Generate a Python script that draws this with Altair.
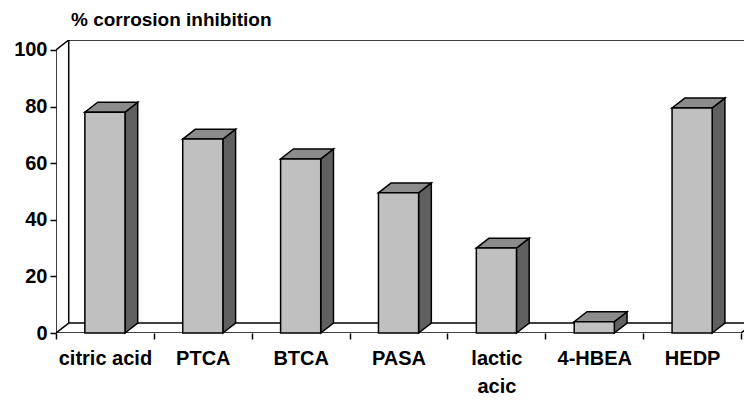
import json
import altair as alt
import pandas as pd

# ---- data ----
categories = ["citric acid", "PTCA", "BTCA", "PASA", "lactic acic", "4-HBEA", "HEDP"]
values = [78, 68.5, 61.5, 49.5, 30, 4, 79.5]
label_lines = ["citric acid", "PTCA", "BTCA", "PASA", ["lactic", "acic"], "4-HBEA", "HEDP"]
y_ticks = [0, 20, 40, 60, 80, 100]
title_text = "% corrosion inhibition"

# ---- 3D geometry (style constants) ----
HALF = 0.205      # half bar width, in category units
DX = 0.13         # depth offset in x (category units)
DY = 3.5          # depth offset in y (value units)
YMAX = 100
n = len(categories)
XMIN, XEND = -0.5, n - 0.5
W, H = 688, 293
FONT = "Liberation Sans"

front = pd.DataFrame({
    "cat": categories,
    "x0": [i - HALF for i in range(n)],
    "x1": [i + HALF for i in range(n)],
    "v": values,
})

top_rows, side_rows = [], []
for i, (c, v) in enumerate(zip(categories, values)):
    top_rows.append({"cat": c, "y": v, "xa": i - HALF, "xb": i + HALF})
    top_rows.append({"cat": c, "y": v + DY, "xa": i - HALF + DX, "xb": i + HALF + DX})
    side_rows.append({"cat": c, "x": i + HALF, "ya": 0, "yb": v})
    side_rows.append({"cat": c, "x": i + HALF + DX, "ya": DY, "yb": v + DY})
top = pd.DataFrame(top_rows)
side = pd.DataFrame(side_rows)

walls = pd.DataFrame([
    {"x": XMIN, "y": 0, "x2": XMIN, "y2": YMAX},                    # front left axis
    {"x": XMIN, "y": YMAX, "x2": XMIN + DX, "y2": YMAX + DY},       # top-left diagonal
    {"x": XMIN + DX, "y": YMAX + DY, "x2": XEND + DX, "y2": YMAX + DY},  # back wall top
    {"x": XMIN + DX, "y": DY, "x2": XMIN + DX, "y2": YMAX + DY},    # back wall left edge
    {"x": XMIN, "y": 0, "x2": XMIN + DX, "y2": DY},                 # bottom-left diagonal
    {"x": XMIN + DX, "y": DY, "x2": XEND + DX, "y2": DY},           # floor back
    {"x": XMIN, "y": 0, "x2": XEND, "y2": 0},                       # floor front
    {"x": XEND, "y": 0, "x2": XEND + DX, "y2": DY},                 # floor right diagonal
])

xscale = alt.Scale(domain=[XMIN, XEND + 0.03], nice=False, zero=False)
yscale = alt.Scale(domain=[0, YMAX + DY], nice=False, zero=True)

label_expr = (
    "datum.value % 1 == 0 ? " + json.dumps(label_lines) + "[datum.value] : ''"
)

x_axis = alt.Axis(
    values=[k / 2 for k in range(-1, 2 * n)],
    labelExpr=label_expr,
    title=None, domain=False, grid=False,
    tickSize=6, tickWidth=1.5, tickColor="black",
    tickOpacity={"condition": {"test": "datum.value % 1 != 0", "value": 1}, "value": 0},
    labelFont=FONT, labelFontSize=20, labelFontWeight="bold", labelColor="black",
    labelPadding=9, labelLineHeight=28, labelAngle=0, labelAlign="center",
    labelBaseline="top", labelOverlap=False, labelBound=False, labelFlush=False,
)
y_axis = alt.Axis(
    values=y_ticks, title=None, domain=False, grid=False,
    tickSize=6, tickWidth=1.5, tickColor="black",
    labelFont=FONT, labelFontSize=20, labelFontWeight="bold", labelColor="black",
    labelPadding=3,
)

wall_layer = alt.Chart(walls).mark_rule(color="black", strokeWidth=1.5, clip=True).encode(
    x=alt.X("x:Q", scale=xscale, axis=x_axis),
    y=alt.Y("y:Q", scale=yscale, axis=y_axis),
    x2="x2:Q", y2="y2:Q",
)

side_layer = alt.Chart(side).mark_area(
    orient="vertical", color="#606060", stroke="black", strokeWidth=1.5, strokeJoin="miter"
).encode(
    x=alt.X("x:Q", scale=xscale, axis=x_axis),
    y=alt.Y("ya:Q", scale=yscale, axis=y_axis, stack=False),
    y2="yb:Q",
    detail="cat:N",
)

top_layer = alt.Chart(top).mark_area(
    orient="horizontal", color="#8C8C8C", stroke="black", strokeWidth=1.5, strokeJoin="miter"
).encode(
    y=alt.Y("y:Q", scale=yscale, axis=y_axis),
    x=alt.X("xa:Q", scale=xscale, axis=x_axis, stack=False),
    x2="xb:Q",
    detail="cat:N",
)

front_layer = alt.Chart(front).mark_rect(
    color="#C0C0C0", stroke="black", strokeWidth=1.5
).encode(
    x=alt.X("x0:Q", scale=xscale, axis=x_axis),
    x2="x1:Q",
    y=alt.Y("v:Q", scale=yscale, axis=y_axis),
    y2=alt.datum(0),
)

chart = alt.layer(wall_layer, side_layer, top_layer, front_layer).properties(
    width=W, height=H,
    autosize=alt.AutoSizeParams(type="none"),
    padding={"left": 56, "top": 40, "right": 0, "bottom": 67},
    title=alt.TitleParams(
        title_text, anchor="start", frame="group", dx=15, offset=-5,
        baseline="alphabetic", font=FONT, fontSize=19, fontWeight="bold", color="black",
    ),
    background="white",
).configure_view(stroke=None)

chart.save("out.html", embed_options={"renderer": "svg", "actions": False})
